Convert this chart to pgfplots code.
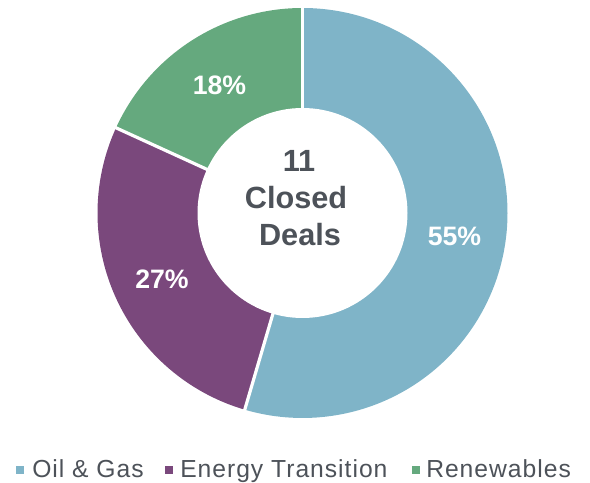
\documentclass[border=0pt]{standalone}
\usepackage{pgfplots}
\pgfplotsset{compat=1.18}
\usepackage{pgfplotstable}
\usepackage{fontspec}
\setmainfont{Liberation Sans}
\definecolor{oilgas}{HTML}{7FB4C8}
\definecolor{energy}{HTML}{7A487C}
\definecolor{renew}{HTML}{65A97E}
\definecolor{txt}{HTML}{4D5259}

\pgfplotstableread{
category deals
OilGas 6
Energy 3
Renewables 2
}\dealtable

\begin{document}
\begin{tikzpicture}
\pgfplotstablegetelem{0}{deals}\of\dealtable \let\va\pgfplotsretval
\pgfplotstablegetelem{1}{deals}\of\dealtable \let\vb\pgfplotsretval
\pgfplotstablegetelem{2}{deals}\of\dealtable \let\vc\pgfplotsretval
\pgfmathsetmacro\tot{\va+\vb+\vc}
\pgfmathsetmacro\aA{90-360*\va/\tot}
\pgfmathsetmacro\aB{\aA-360*\vb/\tot}
\pgfmathsetmacro\aC{\aB-360*\vc/\tot}
\begin{axis}[x=0.75pt, y=0.75pt, xmin=0, xmax=590, ymin=0, ymax=482,
  hide axis, clip=false]
\path (axis cs:0,0) rectangle (axis cs:590,482);
% wedges
\fill[oilgas] (axis cs:302.5,269) -- ++(90:153.75pt) arc[start angle=90, end angle=\aA, radius=153.75pt] -- cycle;
\fill[energy] (axis cs:302.5,269) -- ++(\aA:153.75pt) arc[start angle=\aA, end angle=\aB, radius=153.75pt] -- cycle;
\fill[renew] (axis cs:302.5,269) -- ++(\aB:153.75pt) arc[start angle=\aB, end angle=\aC, radius=153.75pt] -- cycle;
% separators
\draw[white, line width=2.4pt] (axis cs:302.5,269) -- ++(90:156pt);
\draw[white, line width=2.4pt] (axis cs:302.5,269) -- ++(\aA:156pt);
\draw[white, line width=2.4pt] (axis cs:302.5,269) -- ++(\aB:156pt);
% hole
\fill[white] (axis cs:302.5,269) circle[radius=78.75pt];
% slice labels
\node[anchor=base, inner sep=0, text=white, font=\fontsize{20}{24}\selectfont\bfseries] at (axis cs:454.5,236) {55\%};
\node[anchor=base, inner sep=0, text=white, font=\fontsize{20}{24}\selectfont\bfseries] at (axis cs:162,193) {27\%};
\node[anchor=base, inner sep=0, text=white, font=\fontsize{20}{24}\selectfont\bfseries] at (axis cs:219.5,387) {18\%};
% center text
\node[anchor=base, inner sep=0, text=txt, font=\fontsize{23}{27}\selectfont\bfseries] at (axis cs:299,310.5) {11};
\node[anchor=base, inner sep=0, text=txt, font=\fontsize{23}{27}\selectfont\bfseries] at (axis cs:296,273.5) {Closed};
\node[anchor=base, inner sep=0, text=txt, font=\fontsize{23}{27}\selectfont\bfseries] at (axis cs:300,236.5) {Deals};
% legend
\fill[oilgas] (axis cs:16,8) rectangle (axis cs:24,16);
\fill[energy] (axis cs:165,8) rectangle (axis cs:173,16);
\fill[renew] (axis cs:412,8) rectangle (axis cs:420,16);
\node[anchor=base west, inner sep=0, text=txt, font=\fontsize{18.5}{22}\selectfont\addfontfeature{LetterSpace=4}] at (axis cs:32,4.7) {Oil \& Gas};
\node[anchor=base west, inner sep=0, text=txt, font=\fontsize{18.5}{22}\selectfont\addfontfeature{LetterSpace=4}] at (axis cs:180,4.7) {Energy Transition};
\node[anchor=base west, inner sep=0, text=txt, font=\fontsize{18.5}{22}\selectfont\addfontfeature{LetterSpace=4}] at (axis cs:426,4.7) {Renewables};
\end{axis}
\end{tikzpicture}
\end{document}
